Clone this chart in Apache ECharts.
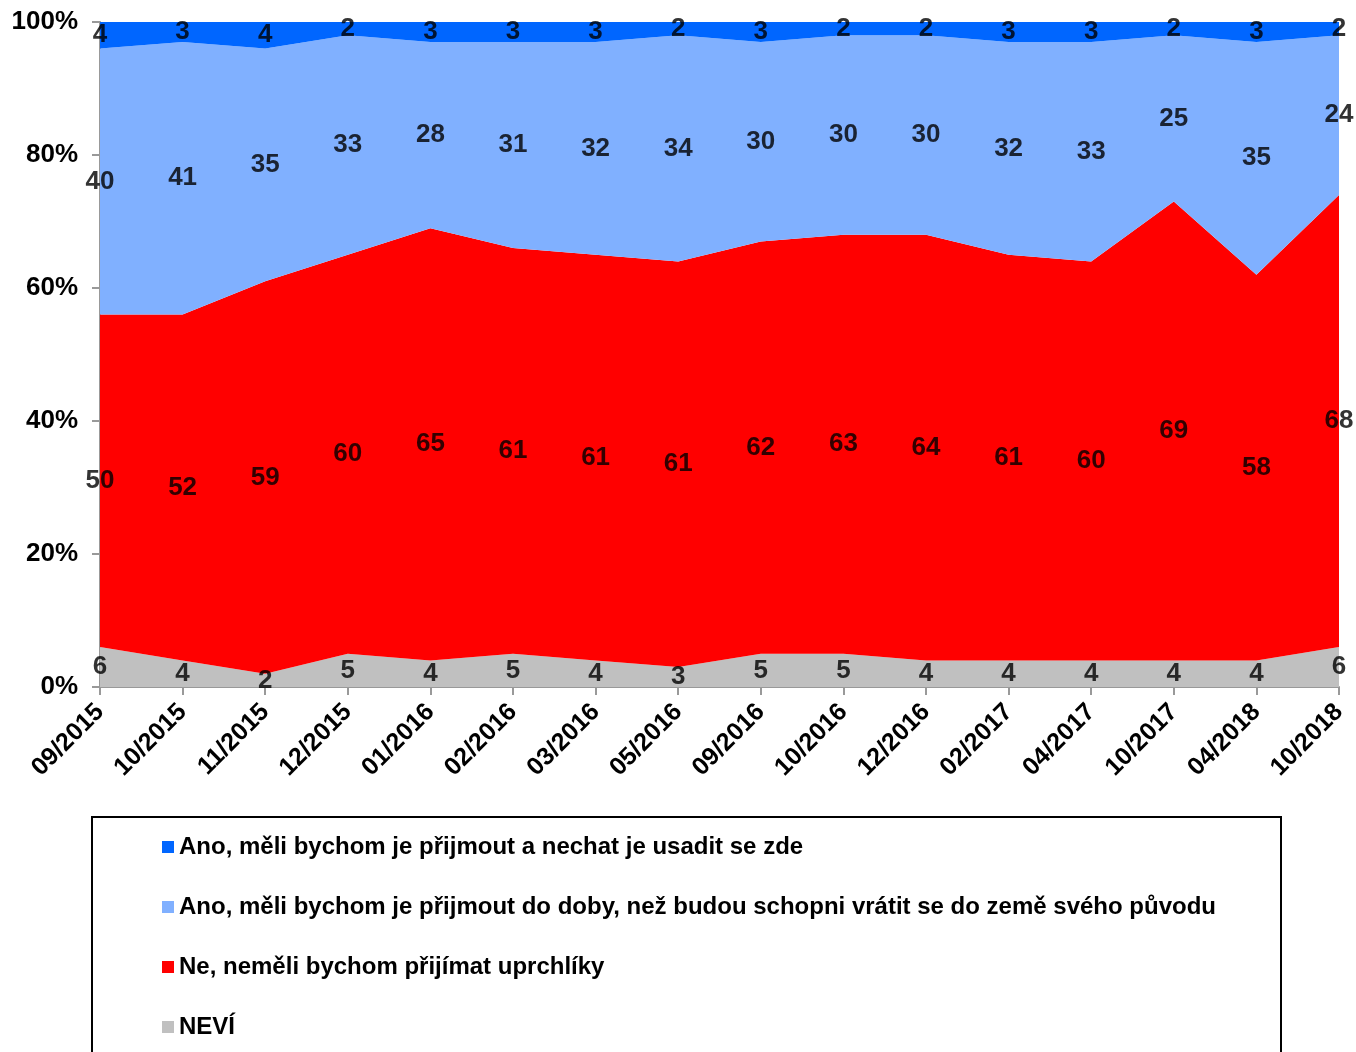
<!DOCTYPE html>
<html><head><meta charset="utf-8">
<script src="https://cdn.jsdelivr.net/npm/echarts@6/dist/echarts.min.js"></script>
<style>html,body{margin:0;padding:0;background:#fff}#c{width:1356px;height:1052px}</style>
</head><body><div id="c"></div>
<script>
const categories = ['09/2015','10/2015','11/2015','12/2015','01/2016','02/2016','03/2016','05/2016','09/2016','10/2016','12/2016','02/2017','04/2017','10/2017','04/2018','10/2018'];
const nevi   = [6,4,2,5,4,5,4,3,5,5,4,4,4,4,4,6];
const ne     = [50,52,59,60,65,61,61,61,62,63,64,61,60,69,58,68];
const anoDoby= [40,41,35,33,28,31,32,34,30,30,30,32,33,25,35,24];
const anoUsadit=[4,3,4,2,3,3,3,2,3,2,2,3,3,2,3,2];
const yTicks = [0,20,40,60,80,100];

const names = ['NEVÍ','Ne, neměli bychom přijímat uprchlíky','Ano, měli bychom je přijmout do doby, než budou schopni vrátit se do země svého původu','Ano, měli bychom je přijmout a nechat je usadit se zde'];
const colors = ['#C0C0C0','#FF0000','#80B0FF','#0066FF'];
const seriesData = [nevi, ne, anoDoby, anoUsadit];

const FONT = 'Liberation Sans, Arial, sans-serif';
const series = [];
seriesData.forEach((d,i)=>{
  series.push({
    name: names[i], type:'line', stack:'total', data:d, symbol:'none',
    lineStyle:{width:0}, areaStyle:{color:colors[i], opacity:1}, itemStyle:{color:colors[i]},
    z: 2
  });
});
// labels at middle of each band
seriesData.forEach((d,i)=>{
  const pts = d.map((v,j)=>{
    let base = 0; for(let k=0;k<i;k++) base += seriesData[k][j];
    return {value:[j, base + v/2], label:{formatter:String(v)}};
  });
  series.push({
    type:'scatter', data:pts, symbolSize:0, silent:true, z:5,
    label:{show:true, position:'inside', color:'#000', fontSize:26, fontWeight:'bold', fontFamily:FONT}
  });
});

const chart = echarts.init(document.getElementById('c'));
chart.setOption({
  animation:false,
  grid:{left:100, right:17, top:22, bottom:365},
  xAxis:{type:'category', data:categories, boundaryGap:false,
    axisLine:{lineStyle:{color:'#999', width:2}},
    axisTick:{show:true, length:8, lineStyle:{color:'#999', width:2}, alignWithLabel:true},
    axisLabel:{rotate:45, color:'#000', fontSize:25, fontWeight:'bold', fontFamily:FONT, margin:21, interval:0},
    splitLine:{show:false}},
  yAxis:{type:'value', min:yTicks[0], max:yTicks[yTicks.length-1], interval:20,
    axisLine:{show:true, lineStyle:{color:'#999', width:2}},
    axisTick:{show:true, length:8, lineStyle:{color:'#999', width:2}},
    axisLabel:{formatter:'{value}%', color:'#000', fontSize:26, fontWeight:'bold', fontFamily:FONT, margin:22},
    splitLine:{show:false}},
  legend:{orient:'vertical', left:162, top:835, padding:0, itemGap:36, itemWidth:12, itemHeight:12,
    icon:'rect', data:[names[3],names[2],names[1],names[0]],
    textStyle:{color:'#000', fontSize:24, lineHeight:24, fontWeight:'bold', fontFamily:FONT, padding:[0,0,0,0]}},
  graphic:[{type:'rect', shape:{x:92, y:817, width:1189, height:260}, style:{fill:'none', stroke:'#000', lineWidth:2}, silent:true}],
  series: series
});
</script></body></html>
